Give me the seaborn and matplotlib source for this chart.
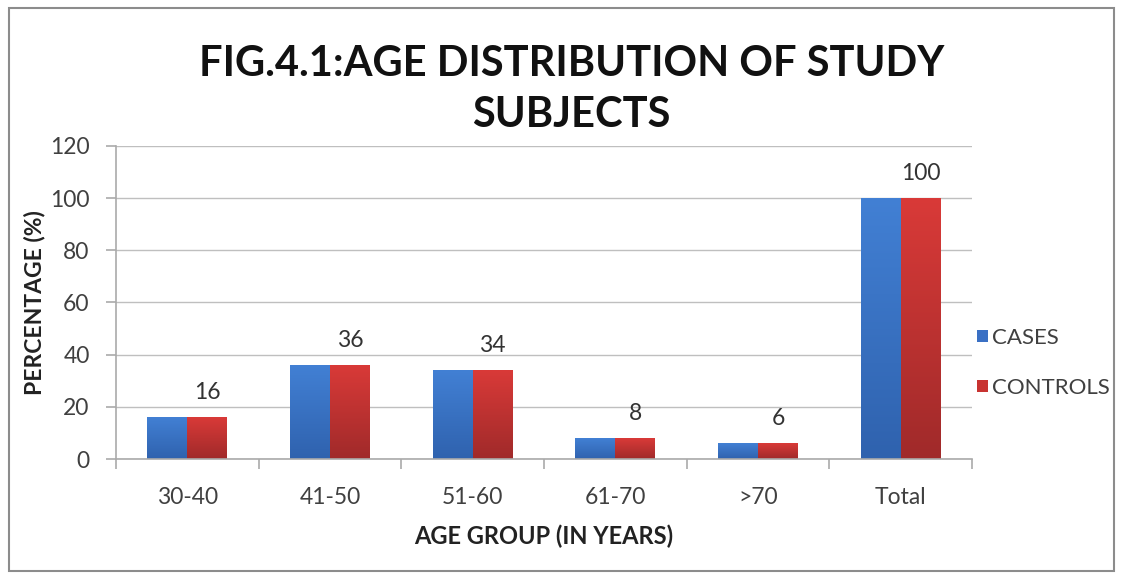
import numpy as np
import pandas as pd
import matplotlib
matplotlib.use("Agg")
import matplotlib.pyplot as plt
from matplotlib.patches import Rectangle
from matplotlib.colors import LinearSegmentedColormap
from matplotlib.ticker import FixedLocator
import seaborn as sns

# Age groups and percentage of subjects in each group
age_groups = ["30-40", "41-50", "51-60", "61-70", ">70", "Total"]
cases = [16, 36, 34, 8, 6, 100]
controls = [16, 36, 34, 8, 6, 100]
series_names = ["CASES", "CONTROLS"]
y_ticks = [0, 20, 40, 60, 80, 100, 120]

df = pd.DataFrame({
    "group": age_groups * 2,
    "pct": cases + controls,
    "series": [series_names[0]] * len(age_groups) + [series_names[1]] * len(age_groups),
})

sns.set_theme(style="white")
plt.rcParams["font.family"] = ["Lato", "DejaVu Sans"]

palette = {"CASES": "#3A70C4", "CONTROLS": "#C83331"}
gradients = {
    "CASES": LinearSegmentedColormap.from_list("blue_grad", ["#2F62AE", "#4280D4"]),
    "CONTROLS": LinearSegmentedColormap.from_list("red_grad", ["#A02A2A", "#D93A38"]),
}

fig = plt.figure(figsize=(11.23, 5.80), dpi=100)
ax = fig.add_axes([0.1033, 0.2086, 0.7622, 0.5397])

sns.barplot(data=df, x="group", y="pct", hue="series", palette=palette,
            order=age_groups, hue_order=series_names, width=0.56,
            saturation=1, linewidth=0, ax=ax)

ax.set_ylim(0, 120)
ax.set_xlim(-0.5, len(age_groups) - 0.5)

# Shade every bar with a vertical gradient clipped to its rectangle
for container, name in zip(ax.containers, series_names):
    for bar in container:
        x0, y0 = bar.get_x(), bar.get_y()
        w, h = bar.get_width(), bar.get_height()
        grad = np.linspace(0, 1, 256).reshape(-1, 1)
        im = ax.imshow(grad, cmap=gradients[name], origin="lower",
                       extent=[x0, x0 + w, y0, y0 + h], aspect="auto",
                       zorder=bar.get_zorder() + 0.1, interpolation="bilinear")
        im.set_clip_path(bar)
ax.set_xlim(-0.5, len(age_groups) - 0.5)
ax.set_ylim(0, 120)

# Value labels above the controls bars
for bar, v in zip(ax.containers[1], controls):
    ax.annotate(f"{v}", (bar.get_x() + bar.get_width() / 2, bar.get_height()),
                xytext=(0, 18), textcoords="offset points", ha="center", va="center",
                fontsize=16.5, color="#333333")

# Axes styling
ax.yaxis.set_major_locator(FixedLocator(y_ticks))
ax.grid(axis="y", color="#BFBFBF", linewidth=1.0)
ax.set_axisbelow(True)
for side in ["top", "right"]:
    ax.spines[side].set_visible(False)
for side in ["left", "bottom"]:
    ax.spines[side].set_visible(True)
    ax.spines[side].set_color("#AAAAAA")
    ax.spines[side].set_linewidth(1.2)

ax.tick_params(axis="y", which="major", left=True, length=7, width=1.2,
               color="#AAAAAA", labelsize=16.5, labelcolor="#404040", pad=12)
ax.xaxis.set_minor_locator(FixedLocator(np.arange(-0.5, len(age_groups), 1.0)))
ax.tick_params(axis="x", which="major", bottom=False, labelsize=16.5,
               labelcolor="#404040", pad=14)
ax.tick_params(axis="x", which="minor", bottom=True, length=7, width=1.2,
               color="#AAAAAA")

ax.set_xlabel("AGE GROUP (IN YEARS)", fontsize=17, fontweight="bold",
              color="#222222", labelpad=12)
ax.set_ylabel("PERCENTAGE (%)", fontsize=16.5, fontweight="bold",
              color="#222222", labelpad=3)

fig.text(0.509, 0.845, "FIG.4.1:AGE DISTRIBUTION OF STUDY\nSUBJECTS",
         ha="center", va="center", fontsize=30, fontweight="bold",
         color="#111111", linespacing=1.42)

leg = ax.legend(loc="center left", bbox_to_anchor=(0.995, 0.307), frameon=False,
                fontsize=16, handlelength=0.5, handleheight=0.5,
                handletextpad=0.2, labelspacing=1.35, borderaxespad=0)
for t in leg.get_texts():
    t.set_color("#404040")

# Outer chart frame
fig.patches.append(Rectangle((0.008, 0.015), 0.984, 0.972, transform=fig.transFigure,
                             fill=False, edgecolor="#8C8C8C", linewidth=1.5))

fig.savefig("out.png", dpi=100, facecolor="white")
